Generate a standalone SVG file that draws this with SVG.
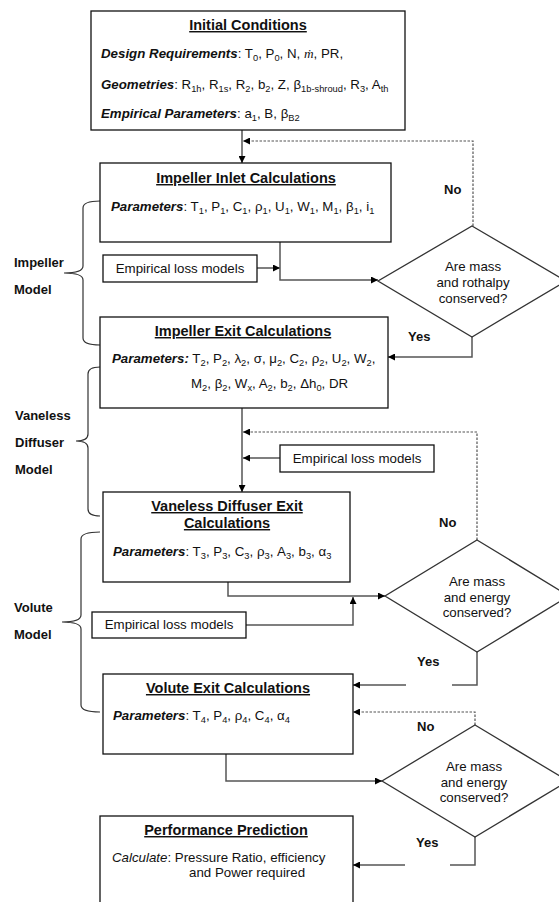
<svg xmlns="http://www.w3.org/2000/svg" width="559" height="902" viewBox="0 0 559 902">
<defs>
<marker id="ah" markerWidth="7" markerHeight="7" refX="7" refY="3.5" orient="auto" markerUnits="userSpaceOnUse">
<path d="M0,0 L7,3.5 L0,7 z" fill="#000"/>
</marker>
</defs>
<style>
text{font-family:"Liberation Sans",Arial,sans-serif;font-size:13.3px;fill:#111}
.t{font-weight:bold;font-size:14.5px;text-anchor:middle;text-decoration:underline}
.bi{font-weight:bold;font-style:italic}
.i{font-style:italic}
.s{font-size:9.3px;baseline-shift:-3px}
.lab{font-weight:bold;font-size:13px}
.c{text-anchor:middle}
.box{fill:#fff;stroke:#111;stroke-width:1.3}
.dia{fill:#fff;stroke:#333;stroke-width:1.3}
.con{fill:none;stroke:#555;stroke-width:1.5}
.dot{fill:none;stroke:#555;stroke-width:1.2;stroke-dasharray:2.5,1.5}
.br{fill:none;stroke:#333;stroke-width:1.2}
</style>

<g id="connectors">
<path class="con" d="M242,130 V163" marker-end="url(#ah)"/>
<path class="dot" d="M473,226 V141 H243" marker-end="url(#ah)"/>
<path class="con" d="M257,268 H280" marker-end="url(#ah)"/>
<path class="con" d="M280,242 V280 H378" marker-end="url(#ah)"/>
<path class="con" d="M472,337 V357 H388" marker-end="url(#ah)"/>
<path class="con" d="M242,408 V492" marker-end="url(#ah)"/>
<path class="dot" d="M477,540 V432 H243" marker-end="url(#ah)"/>
<path class="con" d="M280,458 H243" marker-end="url(#ah)"/>
<path class="con" d="M228,582 V596 H385" marker-end="url(#ah)"/>
<path class="con" d="M246,625 H353 V597" marker-end="url(#ah)"/>
<path class="con" d="M477,652 V685 H452"/>
<path class="con" d="M406,685 H353" marker-end="url(#ah)"/>
<path class="dot" d="M475,725 V712 H353" marker-end="url(#ah)"/>
<path class="con" d="M226,754 V781 H382" marker-end="url(#ah)"/>
<path class="con" d="M475,837 V865 H450"/>
<path class="con" d="M405,865 H353" marker-end="url(#ah)"/>
</g>

<g id="braces">
<path class="br" d="M100,201 Q83,201 83,208 V266 Q83,273 64,273 Q83,273 83,280 V338 Q83,345 100,345"/>
<path class="br" d="M100,367 Q88,367 88,374 V434 Q88,441 76,441 Q88,441 88,448 V509 Q88,516 100,516"/>
<path class="br" d="M100,532 Q81,532 81,539 V615 Q81,622 62,622 Q81,622 81,629 V705 Q81,712 100,712"/>
</g>

<g id="label-impeller">
<text class="lab" x="14" y="267">Impeller</text>
<text class="lab" x="14" y="294">Model</text>
</g>
<g id="label-vaneless">
<text class="lab" x="15" y="420">Vaneless</text>
<text class="lab" x="15" y="447">Diffuser</text>
<text class="lab" x="15" y="474">Model</text>
</g>
<g id="label-volute">
<text class="lab" x="14" y="612">Volute</text>
<text class="lab" x="14" y="639">Model</text>
</g>

<g id="initial-conditions">
<rect class="box" x="91" y="11" width="314" height="119"/>
<text class="t" x="248" y="30">Initial Conditions</text>
<text x="101" y="58"><tspan class="bi">Design Requirements</tspan>: T<tspan class="s">0</tspan>, P<tspan class="s">0</tspan>, N, <tspan font-family="Liberation Serif" font-style="italic">ṁ</tspan>, PR,</text>
<text x="101" y="89"><tspan class="bi">Geometries</tspan>: R<tspan class="s">1h</tspan>, R<tspan class="s">1s</tspan>, R<tspan class="s">2</tspan>, b<tspan class="s">2</tspan>, Z, β<tspan class="s">1b-shroud</tspan>, R<tspan class="s">3</tspan>, A<tspan class="s">th</tspan></text>
<text x="101" y="118"><tspan class="bi">Empirical Parameters</tspan>: a<tspan class="s">1</tspan>, B, β<tspan class="s">B2</tspan></text>
</g>

<g id="impeller-inlet">
<rect class="box" x="100" y="163" width="291" height="79"/>
<text class="t" x="246" y="183">Impeller Inlet Calculations</text>
<text x="111" y="211"><tspan class="bi">Parameters</tspan>: T<tspan class="s">1</tspan>, P<tspan class="s">1</tspan>, C<tspan class="s">1</tspan>, ρ<tspan class="s">1</tspan>, U<tspan class="s">1</tspan>, W<tspan class="s">1</tspan>, M<tspan class="s">1</tspan>, β<tspan class="s">1</tspan>, i<tspan class="s">1</tspan></text>
</g>

<g id="empirical-1">
<rect class="box" x="103" y="255" width="154" height="27"/>
<text class="c" x="180" y="273">Empirical loss models</text>
</g>

<g id="decision-1">
<polygon class="dia" points="472,226 566,281 472,337 378,281"/>
<text class="c" x="473" y="271">Are mass</text>
<text class="c" x="473" y="287">and rothalpy</text>
<text class="c" x="473" y="303">conserved?</text>
</g>
<text class="lab" x="444" y="194">No</text>
<text class="lab" x="408" y="341">Yes</text>

<g id="impeller-exit">
<rect class="box" x="100" y="317" width="288" height="91"/>
<text class="t" x="243" y="336">Impeller Exit Calculations</text>
<text x="112" y="363"><tspan class="bi">Parameters:</tspan> T<tspan class="s">2</tspan>, P<tspan class="s">2</tspan>, λ<tspan class="s">2</tspan>, σ, μ<tspan class="s">2</tspan>, C<tspan class="s">2</tspan>, ρ<tspan class="s">2</tspan>, U<tspan class="s">2</tspan>, W<tspan class="s">2</tspan>,</text>
<text x="191" y="388">M<tspan class="s">2</tspan>, β<tspan class="s">2</tspan>, W<tspan class="s">x</tspan>, A<tspan class="s">2</tspan>, b<tspan class="s">2</tspan>, Δh<tspan class="s">0</tspan>, DR</text>
</g>

<g id="empirical-2">
<rect class="box" x="280" y="445" width="154" height="27"/>
<text class="c" x="357" y="463">Empirical loss models</text>
</g>

<g id="vaneless-exit">
<rect class="box" x="103" y="492" width="247" height="90"/>
<text class="t" x="227" y="511">Vaneless Diffuser Exit</text>
<text class="t" x="227" y="528">Calculations</text>
<text x="113" y="556"><tspan class="bi">Parameters</tspan>: T<tspan class="s">3</tspan>, P<tspan class="s">3</tspan>, C<tspan class="s">3</tspan>, ρ<tspan class="s">3</tspan>, A<tspan class="s">3</tspan>, b<tspan class="s">3</tspan>, α<tspan class="s">3</tspan></text>
</g>

<text class="lab" x="439" y="527">No</text>

<g id="decision-2">
<polygon class="dia" points="477,540 569,596 477,652 385,596"/>
<text class="c" x="477" y="586">Are mass</text>
<text class="c" x="477" y="602">and energy</text>
<text class="c" x="477" y="617">conserved?</text>
</g>

<g id="empirical-3">
<rect class="box" x="92" y="612" width="154" height="26"/>
<text class="c" x="169" y="629">Empirical loss models</text>
</g>

<text class="lab" x="417" y="666">Yes</text>

<g id="volute-exit">
<rect class="box" x="103" y="674" width="250" height="80"/>
<text class="t" x="228" y="693">Volute Exit Calculations</text>
<text x="113" y="720"><tspan class="bi">Parameters</tspan>: T<tspan class="s">4</tspan>, P<tspan class="s">4</tspan>, ρ<tspan class="s">4</tspan>, C<tspan class="s">4</tspan>, α<tspan class="s">4</tspan></text>
</g>

<text class="lab" x="417" y="731">No</text>

<g id="decision-3">
<polygon class="dia" points="475,725 568,781 475,837 382,781"/>
<text class="c" x="474" y="771">Are mass</text>
<text class="c" x="474" y="787">and energy</text>
<text class="c" x="474" y="802">conserved?</text>
</g>

<text class="lab" x="416" y="847">Yes</text>

<g id="performance">
<rect class="box" x="100" y="816" width="253" height="100"/>
<text class="t" x="226" y="835">Performance Prediction</text>
<text x="112" y="862"><tspan class="i">Calculate</tspan>: Pressure Ratio, efficiency</text>
<text x="189" y="877">and Power required</text>
</g>
</svg>
